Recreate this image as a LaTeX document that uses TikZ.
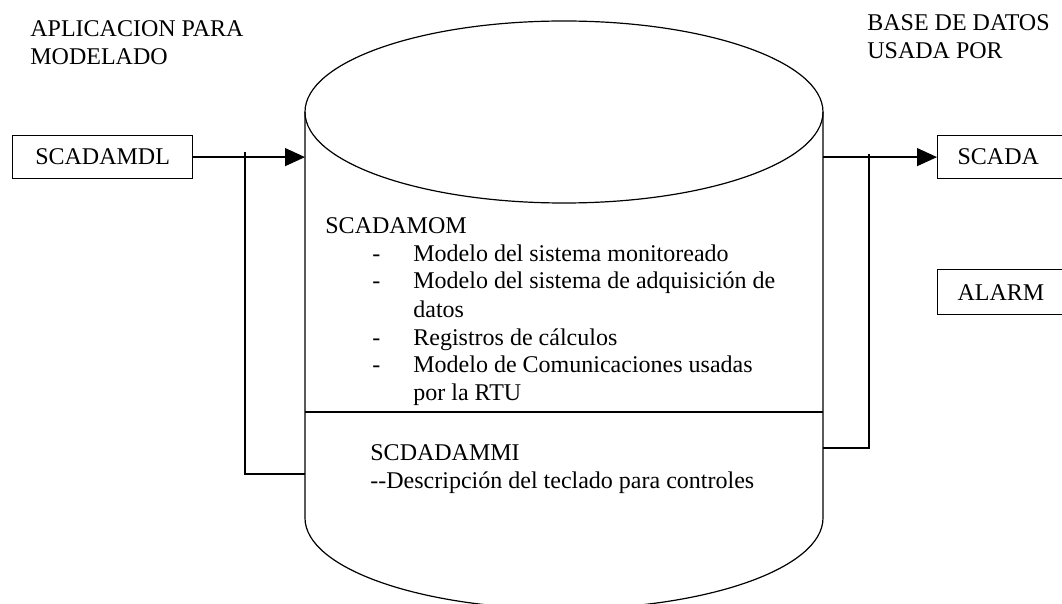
\documentclass[tikz,border=0pt]{standalone}
\usepackage{fontspec}
\setmainfont{Liberation Serif}
\usetikzlibrary{arrows.meta,positioning}

\newcommand{\dashitem}[1]{\hspace*{23.5pt}\makebox[20.5pt][l]{-}#1}
\newcommand{\contline}[1]{\hspace*{44pt}#1}

\tikzset{
  txt/.style={anchor=base west,inner sep=0pt,align=left},
  boxnode/.style={draw,line width=0.6pt,anchor=north west,minimum height=21.5pt,inner sep=0pt},
  conn/.style={line width=0.6pt,-{Triangle[length=10pt,width=9pt]}},
  wire/.style={line width=0.6pt},
}

\begin{document}
\begin{tikzpicture}[x=0.5pt,y=0.5pt,yscale=-1,xscale=1,font=\fontsize{12}{14}\selectfont]
\useasboundingbox (0,0) rectangle (1062,604);
\clip (0,0) rectangle (1062,604);

%Shape: Cylinder
\draw [wire] (564,112) ellipse [x radius=259,y radius=91];
\draw [wire] (305,112) -- (305,518) arc [start angle=180,end angle=0,x radius=259,y radius=91] -- (823,112);
%Straight Lines (divider)
\draw [wire] (305,412) -- (823,412);

% points on the cylinder
\coordinate (inL) at (305,155);
\coordinate (inLlow) at (305,474);
\coordinate (tapL) at (245,152);
\coordinate (outR) at (823,156);
\coordinate (outRlow) at (823,448);
\coordinate (tapR) at (869,154);

% Boxes
\node [boxnode,minimum width=90pt] (mdl) at (12,135) {SCADAMDL};
\node [boxnode,minimum width=150pt,text width=130pt,inner xsep=10pt,align=left] (scada) at (937,135) {SCADA};
\node [boxnode,minimum width=150pt,text width=130pt,inner xsep=10pt,minimum height=22.5pt,align=left] (alarm) at (937,269) {ALARM};

% Text Node (base = last line)
\node [txt] (app) at (30,65) {APLICACION PARA\\MODELADO};
% Text Node
\node [txt] (base) at (867,59) {BASE DE DATOS\\USADA POR};
% Text Node
\node [txt] (mom) at (325,401) {SCADAMOM\\
\dashitem{Modelo del sistema monitoreado}\\
\dashitem{Modelo del sistema de adquisición de}\\
\contline{datos}\\
\dashitem{Registros de cálculos}\\
\dashitem{Modelo de Comunicaciones usadas}\\
\contline{por la RTU}};
% Text Node
\node [txt] (mmi) at (370,489) {SCDADAMMI\\-{}-Descripción del teclado para controles};

%Connectors
\draw [conn] (mdl.east) -- (mdl.east -| inL);
\draw [wire] (inLlow) -| (tapL);
\draw [conn] (scada.west -| outR) -- (scada.west);
\draw [wire] (outRlow) -| (tapR);

\end{tikzpicture}
\end{document}
